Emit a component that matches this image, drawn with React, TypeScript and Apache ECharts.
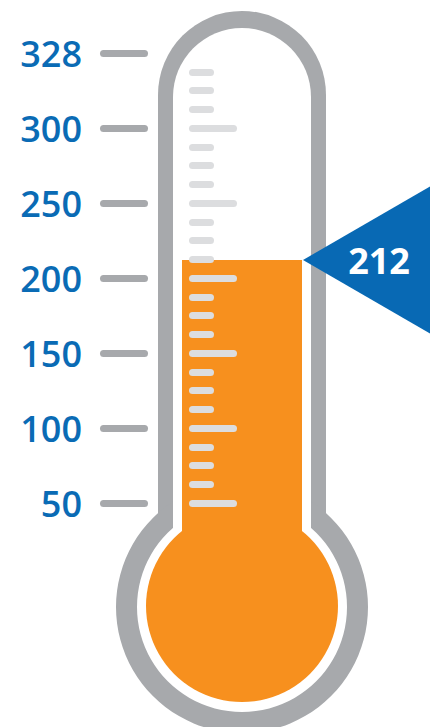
import React, { useEffect, useRef } from "react";
import * as echarts from "echarts";

// ---- data ----
const categories = ["Current"];
const currentValue = [212];
const scaleMin = 0;
const scaleMax = 350;
const outerTickValues = [50, 100, 150, 200, 250, 300, 350];
const outerTickLabels = ["50", "100", "150", "200", "250", "300", "328"];
const innerLongTickValues = [50, 100, 150, 200, 250, 300];
const innerShortTickValues = [
  62.5, 75, 87.5, 112.5, 125, 137.5, 162.5, 175, 187.5, 212.5, 225, 237.5,
  262.5, 275, 287.5, 312.5, 325, 337.5,
];

const GRAY = "#a7a9ac";
const LIGHT = "#dcdddf";
const ORANGE = "#f7901e";
const BLUE = "#0a6bb5";
const FONT = "'Open Sans', 'Noto Sans', sans-serif";

export default function App() {
  const ref = useRef<HTMLDivElement>(null);
  useEffect(() => {
    if (!ref.current) return;
    const chart = echarts.init(ref.current, undefined, { renderer: "svg" });
    const baseY = {
      type: "value" as const,
      min: scaleMin,
      max: scaleMax,
      interval: 50,
      position: "left" as const,
      splitLine: { show: false },
      axisLine: { show: false },
    };
    chart.setOption({
      animation: false,
      backgroundColor: "#ffffff",
      grid: { left: 182, top: 53, width: 120, height: 525 },
      xAxis: { type: "category", data: categories, show: false },
      yAxis: [
        {
          ...baseY,
          offset: 37.5,
          z: 5,
          axisTick: {
            show: true,
            inside: false,
            length: 41,
            customValues: outerTickValues,
            lineStyle: { color: GRAY, width: 7, cap: "round" },
          },
          axisLabel: {
            show: true,
            margin: 62.5,
            customValues: outerTickValues,
            color: BLUE,
            fontSize: 36,
            fontWeight: 600,
            fontFamily: FONT,
            formatter: (v: number) => {
              const i = outerTickValues.indexOf(v);
              return i >= 0 ? outerTickLabels[i] : "";
            },
          },
        },
        {
          ...baseY,
          offset: -10.5,
          z: 5,
          axisTick: {
            show: true,
            inside: true,
            length: 41,
            customValues: innerLongTickValues,
            lineStyle: { color: LIGHT, width: 7, cap: "round" },
          },
          axisLabel: { show: false },
        },
        {
          ...baseY,
          offset: -10.5,
          z: 5,
          axisTick: {
            show: true,
            inside: true,
            length: 18,
            customValues: innerShortTickValues,
            lineStyle: { color: LIGHT, width: 7, cap: "round" },
          },
          axisLabel: { show: false },
        },
      ],
      graphic: [
        {
          type: "rect",
          z: 0,
          z2: 0,
          shape: { x: 158, y: 11, width: 168, height: 600, r: [84, 84, 0, 0] },
          style: { fill: GRAY },
        },
        {
          type: "circle",
          z: 0,
          z2: 0,
          shape: { cx: 242, cy: 607, r: 126 },
          style: { fill: GRAY },
        },
        {
          type: "rect",
          z: 0,
          z2: 1,
          shape: { x: 173, y: 28, width: 138, height: 583, r: [69, 69, 0, 0] },
          style: { fill: "#ffffff" },
        },
        {
          type: "circle",
          z: 0,
          z2: 1,
          shape: { cx: 242, cy: 607, r: 105 },
          style: { fill: "#ffffff" },
        },
        {
          type: "circle",
          z: 0,
          z2: 2,
          shape: { cx: 242, cy: 606, r: 96 },
          style: { fill: ORANGE },
        },
      ],
      series: [
        {
          type: "bar",
          data: currentValue,
          barWidth: 120,
          z: 2,
          itemStyle: { color: ORANGE },
          markPoint: {
            symbol: "path://M0,74 L127,0 L127,148 Z",
            symbolSize: [127, 147],
            symbolOffset: [124.5, 0],
            itemStyle: { color: "#0869b4" },
            label: {
              show: true,
              position: "inside",
              offset: [12.5, 0],
              color: "#ffffff",
              fontSize: 36,
              fontWeight: 700,
              fontFamily: FONT,
              formatter: (p: any) => String(p.value),
            },
            data: [{ coord: [0, currentValue[0]], value: currentValue[0] }],
          },
        },
      ],
    });
    return () => chart.dispose();
  }, []);
  return (
    <div
      ref={ref}
      style={{ position: "fixed", left: 0, top: 0, width: 440, height: 727 }}
    />
  );
}
